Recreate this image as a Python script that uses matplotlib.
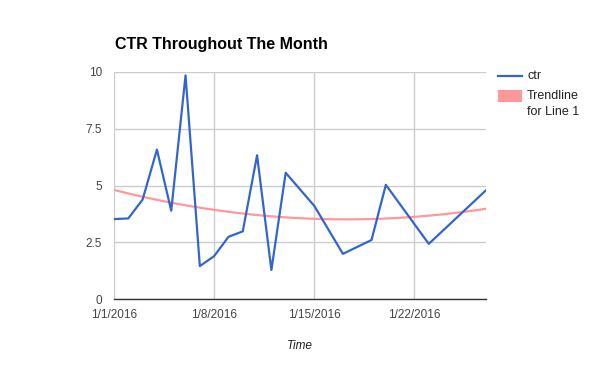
import matplotlib
matplotlib.use('Agg')
import matplotlib.pyplot as plt
import matplotlib.dates as mdates
from matplotlib.lines import Line2D
from matplotlib.patches import Rectangle
import numpy as np

days = ['2016-01-01', '2016-01-02', '2016-01-03', '2016-01-04', '2016-01-05',
        '2016-01-06', '2016-01-07', '2016-01-08', '2016-01-09', '2016-01-10',
        '2016-01-11', '2016-01-12', '2016-01-13', '2016-01-15', '2016-01-17',
        '2016-01-19', '2016-01-20', '2016-01-23', '2016-01-27']
ctr = [3.52, 3.55, 4.38, 6.58, 3.89, 9.85, 1.45, 1.89, 2.74, 2.98,
       6.33, 1.28, 5.56, 4.10, 1.99, 2.60, 5.03, 2.43, 4.79]
ticks = ['2016-01-01', '2016-01-08', '2016-01-15', '2016-01-22']
tick_labels = ['1/1/2016', '1/8/2016', '1/15/2016', '1/22/2016']

plt.rcParams['font.family'] = ['Liberation Sans', 'DejaVu Sans']

dates = np.array(days, dtype='datetime64[D]')
x = mdates.date2num(dates.astype('datetime64[s]').astype(object))
x0 = x[0]

# trendline: 2nd degree polynomial fit of the data
coef = np.polyfit(x - x0, ctr, 2)
xs = np.linspace(0, x[-1] - x0, 200)
ys = np.polyval(coef, xs)

W, H = 600, 371
fig = plt.figure(figsize=(6, 3.71), dpi=100)
ax = fig.add_axes([0.19, 0.194, 0.62, 0.612])

ax.plot(xs + x0, ys, color='#ff9999', lw=1.6, zorder=2)
ax.plot(x, ctr, color='#3366cc', lw=1.6, zorder=3)

ax.set_xlim(x[0], x[-1])
ax.set_ylim(0, 10)
tx = mdates.date2num(np.array(ticks, dtype='datetime64[s]').astype(object))
ax.set_xticks(tx)
ax.set_xticklabels(tick_labels)
ax.set_yticks([0, 2.5, 5, 7.5, 10])
ax.set_yticklabels(['0', '2.5', '5', '7.5', '10'])
ax.grid(True, color='#cccccc', lw=1)
ax.set_axisbelow(True)
ax.tick_params(length=0, labelsize=8.5, colors='#444444')
ax.tick_params(axis='x', pad=7)
ax.tick_params(axis='y', pad=8.5)
for s in ['top', 'right', 'left']:
    ax.spines[s].set_visible(False)
ax.spines['bottom'].set_color('#333333')
ax.spines['bottom'].set_linewidth(1)

ax.set_xlabel('Time', fontstyle='italic', fontsize=8.5, color='#222222', labelpad=14)
fig.text(0.192, 1 - 45 / H, 'CTR Throughout The Month', fontsize=11.5,
         fontweight='bold', color='#000000', va='center')

# legend drawn by hand (pixel positions of the reference)
fig.add_artist(Line2D([498 / W, 522 / W], [1 - 76 / H, 1 - 76 / H],
                      color='#3366cc', lw=1.6))
fig.text(527 / W, 1 - 76 / H, 'ctr', fontsize=9, color='#222222', va='center')
fig.add_artist(Rectangle((498 / W, 1 - 102 / H), 24 / W, 12 / H,
                         facecolor='#ff9999', edgecolor='none'))
fig.text(527 / W, 1 - 96 / H, 'Trendline', fontsize=9, color='#222222', va='center')
fig.text(527 / W, 1 - 112 / H, 'for Line 1', fontsize=9, color='#222222', va='center')

fig.savefig('out.png', dpi=100)
